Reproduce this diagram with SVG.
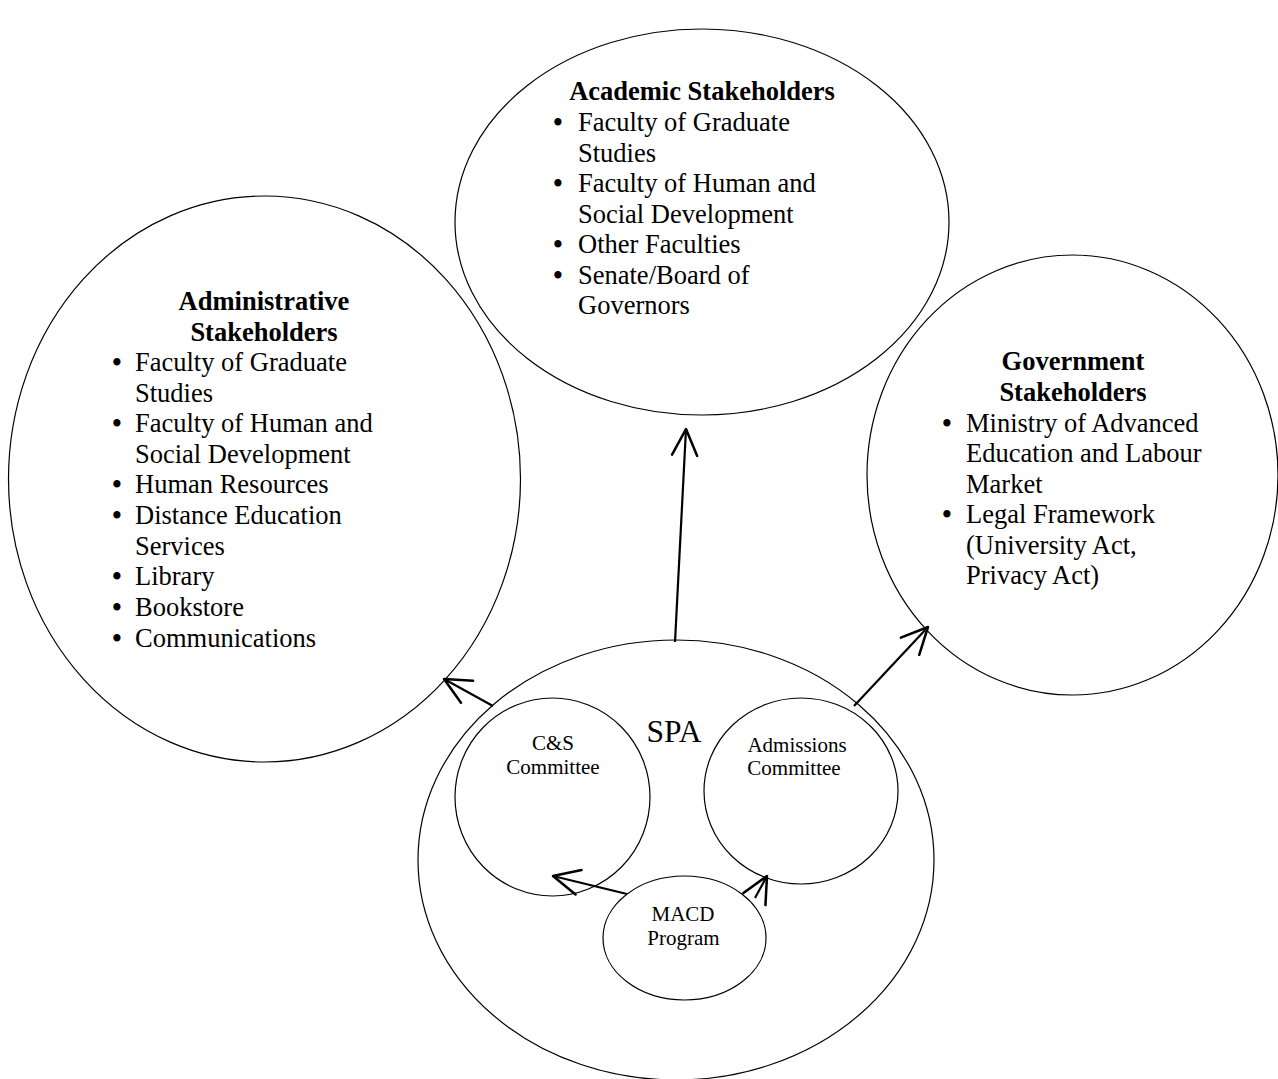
<svg xmlns="http://www.w3.org/2000/svg" width="1278" height="1079" viewBox="0 0 1278 1079">
<defs>
<style>
.shape{fill:none;stroke:#000;stroke-width:1.2}
.conn{fill:none;stroke:#000;stroke-width:2.2}
.t{font-family:"Liberation Serif","Times New Roman",serif;fill:#000}
.h{font-size:26.5px;font-weight:bold;text-anchor:middle}
.li{font-size:26.5px}
.b{font-size:26.5px;text-anchor:middle;font-weight:bold}
.s{font-size:21px;text-anchor:middle}
.spa{font-size:31.5px;text-anchor:middle}
</style>
<marker id="arr" markerUnits="userSpaceOnUse" markerWidth="40" markerHeight="40" viewBox="-30 -15 35 30" refX="0" refY="0" orient="auto" overflow="visible">
<path d="M -23 -11 L 0 0 L -23 11" fill="none" stroke="#000" stroke-width="2.2" stroke-linejoin="round" stroke-linecap="round"/>
</marker>
</defs>
<rect width="1278" height="1079" fill="#fff"/>

<g id="academic">
<ellipse class="shape" cx="702" cy="222" rx="247" ry="193"/>
<text class="t h" x="702" y="100">Academic Stakeholders</text>
<g class="t">
<text class="b" x="558" y="131">•</text>
<text class="li" x="578" y="131">Faculty of Graduate</text>
<text class="li" x="578" y="161.5">Studies</text>
<text class="b" x="558" y="192">•</text>
<text class="li" x="578" y="192">Faculty of Human and</text>
<text class="li" x="578" y="222.5">Social Development</text>
<text class="b" x="558" y="253">•</text>
<text class="li" x="578" y="253">Other Faculties</text>
<text class="b" x="558" y="283.5">•</text>
<text class="li" x="578" y="283.5">Senate/Board of</text>
<text class="li" x="578" y="314">Governors</text>
</g>
</g>

<g id="administrative">
<ellipse class="shape" cx="264.5" cy="479" rx="256" ry="283"/>
<text class="t h" x="264" y="310">Administrative</text>
<text class="t h" x="264" y="341">Stakeholders</text>
<g class="t">
<text class="b" x="117" y="371">•</text>
<text class="li" x="135" y="371">Faculty of Graduate</text>
<text class="li" x="135" y="401.5">Studies</text>
<text class="b" x="117" y="432">•</text>
<text class="li" x="135" y="432">Faculty of Human and</text>
<text class="li" x="135" y="462.5">Social Development</text>
<text class="b" x="117" y="493">•</text>
<text class="li" x="135" y="493">Human Resources</text>
<text class="b" x="117" y="524">•</text>
<text class="li" x="135" y="524">Distance Education</text>
<text class="li" x="135" y="554.5">Services</text>
<text class="b" x="117" y="585">•</text>
<text class="li" x="135" y="585">Library</text>
<text class="b" x="117" y="616">•</text>
<text class="li" x="135" y="616">Bookstore</text>
<text class="b" x="117" y="647">•</text>
<text class="li" x="135" y="647">Communications</text>
</g>
</g>

<g id="government">
<ellipse class="shape" cx="1072.5" cy="475" rx="205.5" ry="220"/>
<text class="t h" x="1073" y="370">Government</text>
<text class="t h" x="1073" y="401">Stakeholders</text>
<g class="t">
<text class="b" x="947" y="431.5">•</text>
<text class="li" x="966" y="431.5">Ministry of Advanced</text>
<text class="li" x="966" y="462">Education and Labour</text>
<text class="li" x="966" y="492.5">Market</text>
<text class="b" x="947" y="523">•</text>
<text class="li" x="966" y="523">Legal Framework</text>
<text class="li" x="966" y="553.5">(University Act,</text>
<text class="li" x="966" y="584">Privacy Act)</text>
</g>
</g>

<g id="spa">
<ellipse class="shape" cx="676" cy="860" rx="258" ry="220"/>
<text class="t spa" x="674" y="742">SPA</text>
</g>

<g id="cs-committee">
<ellipse class="shape" cx="552.5" cy="797" rx="97.5" ry="99"/>
<text class="t s" x="553" y="750">C&amp;S</text>
<text class="t s" x="553" y="774">Committee</text>
</g>

<g id="admissions-committee">
<ellipse class="shape" cx="801" cy="791" rx="97" ry="93"/>
<text class="t s" x="797" y="752">Admissions</text>
<text class="t s" x="794" y="775">Committee</text>
</g>

<g id="macd-program">
<ellipse class="shape" cx="684.5" cy="938" rx="81.5" ry="62"/>
<text class="t s" x="683" y="921">MACD</text>
<text class="t s" x="683.5" y="945">Program</text>
</g>

<g id="connectors">
<line class="conn" x1="675" y1="642" x2="686" y2="429" marker-end="url(#arr)"/>
<line class="conn" x1="493" y1="706" x2="444" y2="679" marker-end="url(#arr)"/>
<line class="conn" x1="854" y1="706" x2="928" y2="627" marker-end="url(#arr)"/>
<line class="conn" x1="627" y1="894" x2="553" y2="876" marker-end="url(#arr)"/>
<line class="conn" x1="755" y1="898" x2="767" y2="876" marker-end="url(#arr)"/>
</g>
</svg>
